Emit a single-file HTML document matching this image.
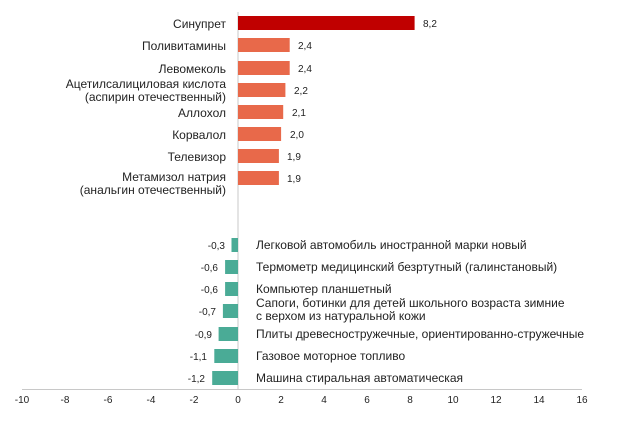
<!DOCTYPE html>
<html><head><meta charset="utf-8"><style>
body{margin:0;background:#fff}
svg{display:block;font-family:"Liberation Sans",sans-serif}
</style></head><body>
<svg width="624" height="429" viewBox="0 0 624 429">
<rect width="624" height="429" fill="#fff"/>
<line x1="238" y1="12" x2="238" y2="389" stroke="#c8c8c8" stroke-width="1"/>
<line x1="22" y1="389.5" x2="582" y2="389.5" stroke="#c8c8c8" stroke-width="1"/>
<g font-size="10" fill="#222" text-anchor="middle">
<text x="22" y="403">-10</text><text x="65" y="403">-8</text><text x="108" y="403">-6</text><text x="151" y="403">-4</text><text x="194" y="403">-2</text><text x="238" y="403">0</text><text x="281" y="403">2</text><text x="324" y="403">4</text><text x="367" y="403">6</text><text x="410" y="403">8</text><text x="453" y="403">10</text><text x="496" y="403">12</text><text x="539" y="403">14</text><text x="582" y="403">16</text>
</g>
<g>
<rect x="238" y="16" width="176.6" height="14" fill="#c00000"/>
<rect x="238" y="38" width="51.7" height="14" fill="#e8694a"/>
<rect x="238" y="61" width="51.7" height="14" fill="#e8694a"/>
<rect x="238" y="83" width="47.4" height="14" fill="#e8694a"/>
<rect x="238" y="105" width="45.2" height="14" fill="#e8694a"/>
<rect x="238" y="127" width="43.1" height="14" fill="#e8694a"/>
<rect x="238" y="149" width="40.9" height="14" fill="#e8694a"/>
<rect x="238" y="171" width="40.9" height="14" fill="#e8694a"/>
<rect x="231.5" y="238" width="6.5" height="14" fill="#4aab96"/>
<rect x="225.1" y="260" width="12.9" height="14" fill="#4aab96"/>
<rect x="225.1" y="282" width="12.9" height="14" fill="#4aab96"/>
<rect x="222.9" y="304" width="15.1" height="14" fill="#4aab96"/>
<rect x="218.6" y="327" width="19.4" height="14" fill="#4aab96"/>
<rect x="214.3" y="349" width="23.7" height="14" fill="#4aab96"/>
<rect x="212.2" y="371" width="25.8" height="14" fill="#4aab96"/>
</g>
<g font-size="10" fill="#222">
<text x="423" y="27">8,2</text><text x="298" y="49">2,4</text><text x="298" y="72">2,4</text><text x="294" y="94">2,2</text><text x="292" y="116">2,1</text><text x="290" y="138">2,0</text><text x="287" y="160">1,9</text><text x="287" y="182">1,9</text>
</g>
<g font-size="10" fill="#222" text-anchor="end">
<text x="225" y="249">-0,3</text><text x="218" y="271">-0,6</text><text x="218" y="293">-0,6</text><text x="216" y="315">-0,7</text><text x="212" y="338">-0,9</text><text x="207" y="360">-1,1</text><text x="205" y="382">-1,2</text>
</g>
<g font-size="12" fill="#222" text-anchor="end">
<text x="226" y="28">Синупрет</text>
<text x="226" y="50">Поливитамины</text>
<text x="226" y="73">Левомеколь</text>
<text x="226" y="88">Ацетилсалициловая кислота</text>
<text x="226" y="101">(аспирин отечественный)</text>
<text x="226" y="117">Аллохол</text>
<text x="226" y="139">Корвалол</text>
<text x="226" y="161">Телевизор</text>
<text x="226" y="181">Метамизол натрия</text>
<text x="226" y="194">(анальгин отечественный)</text>
</g>
<g font-size="12" fill="#222">
<text x="256" y="249">Легковой автомобиль иностранной марки новый</text>
<text x="256" y="271">Термометр медицинский безртутный (галинстановый)</text>
<text x="256" y="293">Компьютер планшетный</text>
<text x="256" y="307">Сапоги, ботинки для детей школьного возраста зимние</text>
<text x="256" y="320">с верхом из натуральной кожи</text>
<text x="256" y="338">Плиты древесностружечные, ориентированно-стружечные</text>
<text x="256" y="360">Газовое моторное топливо</text>
<text x="256" y="382">Машина стиральная автоматическая</text>
</g>
</svg>
</body></html>
